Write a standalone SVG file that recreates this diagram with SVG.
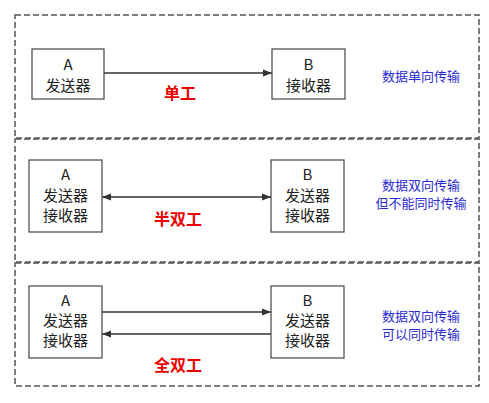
<svg xmlns="http://www.w3.org/2000/svg" width="489" height="403" viewBox="0 0 489 403">
<defs>
<marker id="ah" viewBox="0 0 10 10" refX="10" refY="5" markerWidth="9" markerHeight="9" markerUnits="userSpaceOnUse" orient="auto-start-reverse">
<path d="M0,1 L10,5 L0,9 Z" fill="#333"/>
</marker>
<style>
.panel{fill:none;stroke:#555;stroke-width:1.5;stroke-dasharray:6 3}
.box{fill:#fff;stroke:#444;stroke-width:1.2}
.lbl{font-family:"Noto Sans CJK SC","Noto Sans",sans-serif;font-size:15px;fill:#222;text-anchor:middle}
.mode{font-family:"Noto Sans CJK SC","Noto Sans",sans-serif;font-size:16px;font-weight:bold;fill:#e00;text-anchor:middle}
.desc{font-family:"Noto Sans CJK SC","Noto Sans",sans-serif;font-size:13px;fill:#2a2ad0;text-anchor:middle}
.conn{stroke:#333;stroke-width:1.3;fill:none}
</style>
</defs>
<rect width="489" height="403" fill="#fff"/>
<g id="panels">
<rect class="panel" x="15" y="15" width="464" height="123"/>
<rect class="panel" x="15" y="139" width="464" height="123"/>
<rect class="panel" x="15" y="263" width="464" height="123"/>
</g>
<g id="connectors">
<line class="conn" x1="104" y1="73" x2="272" y2="73" marker-end="url(#ah)"/>
<line class="conn" x1="102" y1="197" x2="271" y2="197" marker-start="url(#ah)" marker-end="url(#ah)"/>
<line class="conn" x1="102" y1="312" x2="271" y2="312" marker-end="url(#ah)"/>
<line class="conn" x1="271" y1="334" x2="102" y2="334" marker-end="url(#ah)"/>
</g>
<g id="a1"><rect class="box" x="32" y="49" width="72" height="50"/>
<text class="lbl" x="68" y="70">A</text><text class="lbl" x="68" y="91">发送器</text></g>
<g id="b1"><rect class="box" x="272" y="49" width="73" height="50"/>
<text class="lbl" x="308.5" y="70">B</text><text class="lbl" x="308.5" y="91">接收器</text></g>
<g id="simplex"><text class="mode" x="180" y="99">单工</text></g>
<g id="d1"><text class="desc" x="421" y="81">数据单向传输</text></g>

<g id="a2"><rect class="box" x="29" y="160" width="73" height="72"/>
<text class="lbl" x="65.5" y="180">A</text><text class="lbl" x="65.5" y="201">发送器</text><text class="lbl" x="65.5" y="221">接收器</text></g>
<g id="b2"><rect class="box" x="271" y="160" width="73" height="72"/>
<text class="lbl" x="307.5" y="180">B</text><text class="lbl" x="307.5" y="201">发送器</text><text class="lbl" x="307.5" y="221">接收器</text></g>
<g id="halfduplex"><text class="mode" x="178" y="225">半双工</text></g>
<g id="d2"><text class="desc" x="421" y="190">数据双向传输</text><text class="desc" x="421" y="208">但不能同时传输</text></g>

<g id="a3"><rect class="box" x="29" y="286" width="73" height="72"/>
<text class="lbl" x="65.5" y="306">A</text><text class="lbl" x="65.5" y="326">发送器</text><text class="lbl" x="65.5" y="346">接收器</text></g>
<g id="b3"><rect class="box" x="271" y="286" width="73" height="72"/>
<text class="lbl" x="307.5" y="306">B</text><text class="lbl" x="307.5" y="326">发送器</text><text class="lbl" x="307.5" y="346">接收器</text></g>
<g id="fullduplex"><text class="mode" x="178" y="371">全双工</text></g>
<g id="d3"><text class="desc" x="421" y="321">数据双向传输</text><text class="desc" x="421" y="339">可以同时传输</text></g>
</svg>
